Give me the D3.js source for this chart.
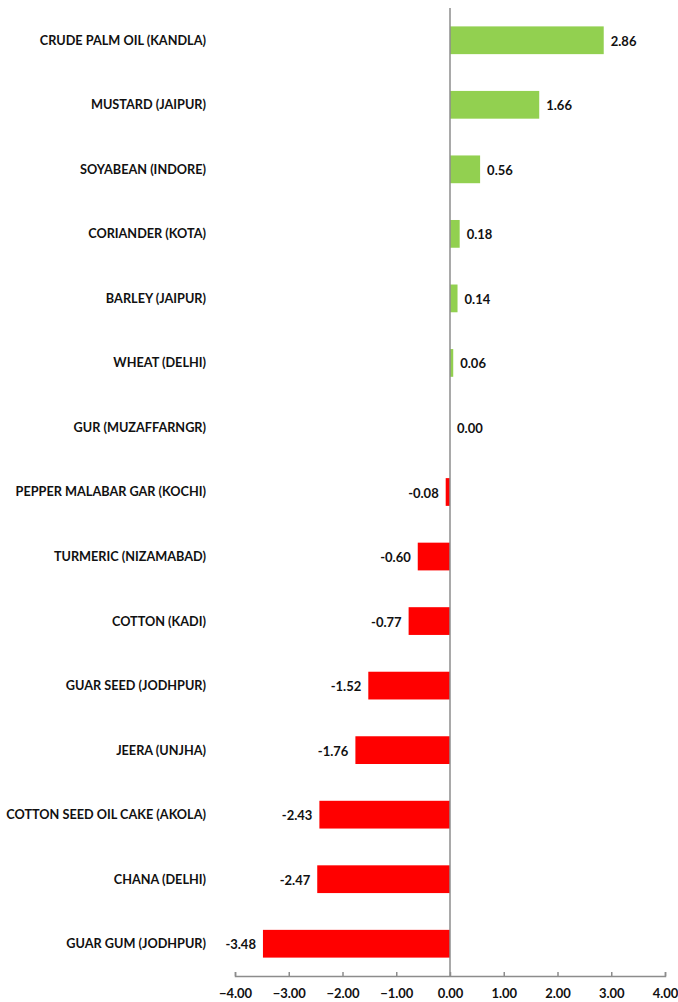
<!DOCTYPE html>
<html>
<head>
<meta charset="utf-8">
<script src="https://cdn.jsdelivr.net/npm/d3@7"></script>
<style>
  body { margin: 0; background: #fff; }
  svg text { font-family: Lato, "Open Sans", sans-serif; font-weight: bold; fill: #111; }
</style>
</head>
<body>
<svg id="chart" width="678" height="1002"></svg>
<script>
const categories = [
  'CRUDE PALM OIL (KANDLA)', 'MUSTARD (JAIPUR)', 'SOYABEAN (INDORE)', 'CORIANDER (KOTA)',
  'BARLEY (JAIPUR)', 'WHEAT (DELHI)', 'GUR (MUZAFFARNGR)', 'PEPPER MALABAR GAR (KOCHI)',
  'TURMERIC (NIZAMABAD)', 'COTTON (KADI)', 'GUAR SEED (JODHPUR)', 'JEERA (UNJHA)',
  'COTTON SEED OIL CAKE (AKOLA)', 'CHANA (DELHI)', 'GUAR GUM (JODHPUR)'
];
const values = [2.86, 1.66, 0.56, 0.18, 0.14, 0.06, 0.00, -0.08, -0.60, -0.77, -1.52, -1.76, -2.43, -2.47, -3.48];
const ticks = [-4, -3, -2, -1, 0, 1, 2, 3, 4];

const svg = d3.select('#chart');
const margin = { left: 235, right: 13, top: 8, bottom: 26 };
const width = 678, height = 1002;

const x = d3.scaleLinear().domain([-4, 4]).range([margin.left, width - margin.right]);
const y = d3.scaleBand().domain(categories).range([margin.top, height - margin.bottom]).paddingInner(0.57).paddingOuter(0.285);

// bars
svg.append('g').selectAll('rect')
  .data(values)
  .enter().append('rect')
  .attr('x', d => x(Math.min(0, d)))
  .attr('y', (d, i) => y(categories[i]))
  .attr('width', d => Math.abs(x(d) - x(0)))
  .attr('height', y.bandwidth())
  .attr('fill', d => d >= 0 ? '#92d050' : '#ff0000');

// value labels
svg.append('g').selectAll('text')
  .data(values)
  .enter().append('text')
  .attr('x', d => d >= 0 ? x(d) + 7 : x(d) - 7)
  .attr('y', (d, i) => y(categories[i]) + y.bandwidth() / 2 + 1)
  .attr('dy', '0.35em')
  .attr('text-anchor', d => d >= 0 ? 'start' : 'end')
  .style('font-size', '13px')
  .text(d => d.toFixed(2));

// category labels
svg.append('g').selectAll('text')
  .data(categories)
  .enter().append('text')
  .attr('x', 206)
  .attr('y', d => y(d) + y.bandwidth() / 2)
  .attr('dy', '0.35em')
  .attr('text-anchor', 'end')
  .style('font-size', '12.7px')
  .text(d => d);

// zero line
const axisY = height - margin.bottom;
svg.append('line')
  .attr('x1', x(0)).attr('x2', x(0))
  .attr('y1', margin.top).attr('y2', axisY)
  .attr('stroke', '#8c8c8c').attr('stroke-width', 1.5);

// x axis
const xAxis = d3.axisBottom(x).tickValues(ticks).tickSize(-4).tickFormat(d3.format('.2f'));
const ax = svg.append('g').attr('transform', `translate(0,${axisY})`).call(xAxis);
ax.select('.domain').attr('stroke', '#8c8c8c').attr('stroke-width', 1.5);
ax.selectAll('.tick line').attr('stroke', '#8c8c8c').attr('stroke-width', 1.5);
ax.selectAll('.tick text').attr('y', 17).attr('dy', '0.35em')
  .style('font-size', '13px').style('font-family', 'Lato, sans-serif').style('font-weight', 'bold').attr('fill', '#111');
</script>
</body>
</html>
